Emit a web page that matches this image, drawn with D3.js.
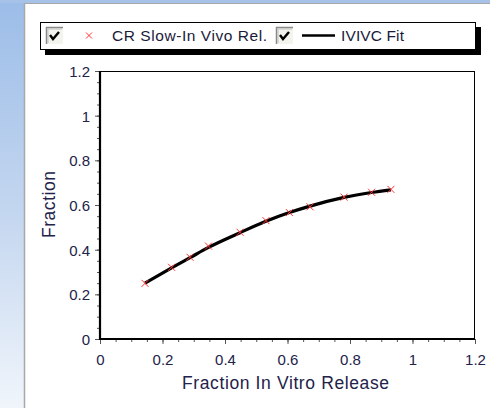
<!DOCTYPE html>
<html>
<head>
<meta charset="utf-8">
<script src="https://cdn.jsdelivr.net/npm/d3@7"></script>
<style>
  html, body { margin: 0; padding: 0; background: #fff; }
  svg { display: block; }
  text { font-family: Arial, "Liberation Sans", sans-serif; }
</style>
</head>
<body>
<svg id="chart" width="490" height="408"></svg>
<script>
// Observed in vivo fraction absorbed vs. in vitro fraction released
const inVitro = [0.144, 0.229, 0.288, 0.347, 0.448, 0.531, 0.606, 0.672, 0.781, 0.869, 0.931];
const inVivo  = [0.249, 0.321, 0.366, 0.416, 0.478, 0.530, 0.566, 0.592, 0.635, 0.657, 0.670];
// IVIVC fitted curve
const fitX = [0.144, 0.229, 0.288, 0.347, 0.448, 0.531, 0.606, 0.672, 0.781, 0.869, 0.931];
const fitY = [0.250, 0.318, 0.364, 0.410, 0.476, 0.527, 0.566, 0.595, 0.634, 0.656, 0.668];
const xTicks = [0, 0.2, 0.4, 0.6, 0.8, 1, 1.2];
const yTicks = [0, 0.2, 0.4, 0.6, 0.8, 1, 1.2];
const legendLabels = ["CR Slow-In Vivo Rel.", "IVIVC Fit"];

(function () {
const svg = d3.select("#chart");
const W = 490, H = 408;

// window chrome: blue gradient strip on the left and top
const defs = svg.append("defs");
const grad = defs.append("linearGradient").attr("id", "side").attr("x1", 0).attr("y1", 0).attr("x2", 0).attr("y2", 1);
grad.append("stop").attr("offset", "0%").attr("stop-color", "#9cbde8");
grad.append("stop").attr("offset", "55%").attr("stop-color", "#c6d8f0");
grad.append("stop").attr("offset", "100%").attr("stop-color", "#f0f5fb");
svg.append("rect").attr("x", 0).attr("y", 0).attr("width", W).attr("height", H).attr("fill", "url(#side)");
svg.append("rect").attr("x", 0).attr("y", 0).attr("width", W).attr("height", 3).attr("fill", "#a6c2e8");
svg.append("rect").attr("x", 24).attr("y", 3).attr("width", W - 24).attr("height", H - 3).attr("fill", "#fff");
svg.append("line").attr("x1", 24.5).attr("x2", 24.5).attr("y1", 3).attr("y2", H).attr("stroke", "#a8a8a8").attr("stroke-width", 1.5);
svg.append("line").attr("x1", 24).attr("x2", W).attr("y1", 3.5).attr("y2", 3.5).attr("stroke", "#a8a8a8").attr("stroke-width", 1);

// plot area
const pLeft = 100, pRight = 475, pTop = 71, pBottom = 339;
const x = d3.scaleLinear().domain([0, 1.2]).range([pLeft, pRight]);
const y = d3.scaleLinear().domain([0, 1.2]).range([pBottom, pTop]);
const labelColor = "#22224a";

// frame
svg.append("rect").attr("x", pLeft).attr("y", pTop + 0.5).attr("width", pRight - pLeft - 0.5).attr("height", pBottom - pTop)
  .attr("fill", "none").attr("stroke", "#000").attr("stroke-width", 1);

// major and minor ticks
const minor = d3.range(0, 1.2001, 0.05);
const xAxis = d3.axisBottom(x).tickValues(xTicks).tickSize(5).tickFormat(d3.format("~g"));
const xMinor = d3.axisBottom(x).tickValues(minor).tickSize(3).tickFormat("");
const yAxis = d3.axisLeft(y).tickValues(yTicks).tickSize(5).tickFormat(d3.format("~g"));
const yMinor = d3.axisLeft(y).tickValues(minor).tickSize(3).tickFormat("");

function styleAxis(g) {
  g.select(".domain").remove();
  g.selectAll(".tick line").attr("stroke", "#555").attr("stroke-width", 1);
  g.selectAll("text").attr("fill", labelColor).style("font-size", "15px").style("font-family", "Arial, 'Liberation Sans', sans-serif");
}
svg.append("g").attr("transform", `translate(0,${pBottom})`).call(xMinor).call(styleAxis);
svg.append("g").attr("transform", `translate(0,${pBottom})`).call(xAxis).call(styleAxis)
  .selectAll("text").attr("y", 26).attr("dy", null);
svg.append("g").attr("transform", `translate(${pLeft},0)`).call(yMinor).call(styleAxis);
svg.append("g").attr("transform", `translate(${pLeft},0)`).call(yAxis).call(styleAxis)
  .selectAll("text").attr("x", -10).attr("dy", "0.36em");

// heavier left and bottom axis lines
svg.append("line").attr("x1", pLeft).attr("x2", pLeft).attr("y1", pTop).attr("y2", pBottom + 1)
  .attr("stroke", "#000").attr("stroke-width", 2.2);
svg.append("line").attr("x1", pLeft - 1).attr("x2", pRight).attr("y1", pBottom).attr("y2", pBottom)
  .attr("stroke", "#000").attr("stroke-width", 2.2);

// axis titles
svg.append("text").attr("x", 182).attr("y", 389)
  .attr("textLength", 207).attr("lengthAdjust", "spacing")
  .attr("fill", labelColor).style("font-size", "17.5px").text("Fraction In Vitro Release");
svg.append("text").attr("transform", `translate(55,238) rotate(-90)`)
  .attr("textLength", 67).attr("lengthAdjust", "spacing")
  .attr("fill", labelColor).style("font-size", "17.5px").text("Fraction");

// fit line
const fitData = fitX.map((v, i) => [v, fitY[i]]);
svg.append("path").datum(fitData)
  .attr("d", d3.line().x(d => x(d[0])).y(d => y(d[1])).curve(d3.curveMonotoneX))
  .attr("fill", "none").attr("stroke", "#000").attr("stroke-width", 3.2).attr("stroke-linejoin", "round");

// observed points as red crosses
const cross = (cx, cy, r) => `M${cx - r},${cy - r}L${cx + r},${cy + r}M${cx - r},${cy + r}L${cx + r},${cy - r}`;
svg.append("g").selectAll("path").data(inVitro.map((v, i) => [v, inVivo[i]])).join("path")
  .attr("d", d => cross(x(d[0]), y(d[1]), 3.5))
  .attr("stroke", "#ff3333").attr("stroke-width", 1).attr("fill", "none");

// legend with drop shadow
const lg = svg.append("g");
lg.append("rect").attr("x", 45).attr("y", 27).attr("width", 436).attr("height", 28).attr("fill", "#000");
lg.append("rect").attr("x", 40.5).attr("y", 22.5).attr("width", 435).attr("height", 27).attr("fill", "#fff").attr("stroke", "#000");

function checkbox(bx, by) {
  const s = 17;
  lg.append("rect").attr("x", bx).attr("y", by).attr("width", s).attr("height", s).attr("fill", "#f4f4ee");
  lg.append("path").attr("d", `M${bx + 0.5},${by + s}V${by + 0.5}H${bx + s}`).attr("stroke", "#8a8a8a").attr("stroke-width", 1.5).attr("fill", "none");
  lg.append("path").attr("d", `M${bx + 2},${by + s - 1}V${by + 2}H${bx + s - 1}`).attr("stroke", "#c0c0c0").attr("stroke-width", 1).attr("fill", "none");
  lg.append("path").attr("d", `M${bx + 4},${by + 8}L${bx + 7},${by + 12}L${bx + 13},${by + 5}`)
    .attr("stroke", "#000").attr("stroke-width", 2.4).attr("fill", "none");
}
checkbox(46, 27);
lg.append("path").attr("d", cross(89, 35.5, 3)).attr("stroke", "#ff3333").attr("stroke-width", 1);
lg.append("text").attr("x", 112).attr("y", 41).attr("textLength", 155).attr("lengthAdjust", "spacing")
  .attr("fill", "#1a1a3a").style("font-size", "15.5px").text(legendLabels[0]);
checkbox(276, 27);
lg.append("line").attr("x1", 302).attr("x2", 335).attr("y1", 35.5).attr("y2", 35.5).attr("stroke", "#000").attr("stroke-width", 2.5);
lg.append("text").attr("x", 341).attr("y", 41).attr("textLength", 63).attr("lengthAdjust", "spacing")
  .attr("fill", "#1a1a3a").style("font-size", "15.5px").text(legendLabels[1]);
})();
</script>
</body>
</html>
